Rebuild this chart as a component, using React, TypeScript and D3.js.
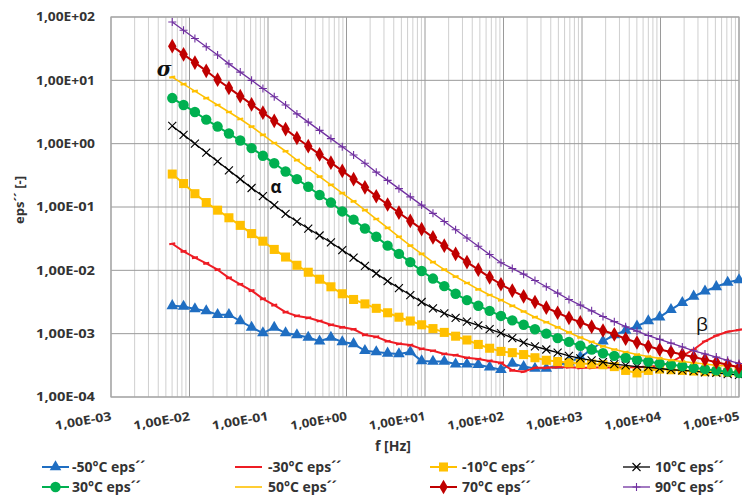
import React from "react";
import * as d3 from "d3";

// frequencies (Hz)
const freqHz = [0.00603, 0.0084, 0.01172, 0.01634, 0.02279, 0.03177, 0.0443, 0.06177, 0.08614, 0.1201, 0.1675, 0.2335, 0.3256, 0.4541, 0.6332, 0.8831, 1.231, 1.717, 2.394, 3.339, 4.656, 6.493, 9.054, 12.63, 17.61, 24.55, 34.24, 47.74, 66.58, 92.84, 129.4, 180.5, 251.7, 351.0, 489.4, 682.3, 951.5, 1327, 1850, 2580, 3597, 5016, 6995, 9754, 13600, 18970, 26450, 36880, 51430, 71720, 100000];

// log10(eps'')
const logEpsM50 = [-2.56,-2.57,-2.61,-2.64,-2.70,-2.70,-2.80,-2.90,-2.99,-2.90,-2.99,-3.02,-3.06,-3.12,-3.06,-3.13,-3.16,-3.27,-3.29,-3.31,-3.32,-3.29,-3.43,-3.44,-3.44,-3.48,-3.48,-3.49,-3.53,-3.57,-3.47,-3.52,-3.55,-3.55,-3.50,-3.45,-3.37,-3.25,-3.12,-3.02,-2.95,-2.88,-2.80,-2.74,-2.62,-2.51,-2.41,-2.33,-2.26,-2.19,-2.15];
const logEpsM30 = [-1.58,-1.70,-1.80,-1.89,-1.99,-2.12,-2.22,-2.32,-2.45,-2.55,-2.66,-2.72,-2.75,-2.80,-2.86,-2.90,-2.93,-3.02,-3.05,-3.12,-3.16,-3.18,-3.24,-3.27,-3.32,-3.34,-3.38,-3.40,-3.43,-3.46,-3.58,-3.60,-3.54,-3.54,-3.53,-3.53,-3.54,-3.54,-3.53,-3.54,-3.53,-3.53,-3.52,-3.51,-3.45,-3.35,-3.25,-3.12,-3.03,-2.97,-2.94];
const logEpsM10 = [-0.48,-0.63,-0.79,-0.93,-1.05,-1.17,-1.29,-1.42,-1.54,-1.67,-1.79,-1.92,-2.03,-2.14,-2.26,-2.37,-2.46,-2.53,-2.60,-2.67,-2.74,-2.80,-2.86,-2.92,-2.98,-3.04,-3.10,-3.17,-3.23,-3.28,-3.30,-3.33,-3.38,-3.42,-3.44,-3.46,-3.47,-3.48,-3.49,-3.52,-3.58,-3.62,-3.58,-3.56,-3.57,-3.58,-3.59,-3.60,-3.60,-3.61,-3.61];
const logEpsP10 = [0.28,0.14,0.00,-0.14,-0.28,-0.42,-0.56,-0.70,-0.83,-0.97,-1.11,-1.23,-1.34,-1.45,-1.56,-1.68,-1.80,-1.93,-2.05,-2.17,-2.28,-2.39,-2.50,-2.60,-2.68,-2.75,-2.81,-2.87,-2.93,-2.99,-3.07,-3.14,-3.20,-3.25,-3.30,-3.35,-3.39,-3.42,-3.45,-3.48,-3.50,-3.52,-3.53,-3.55,-3.57,-3.58,-3.59,-3.61,-3.62,-3.64,-3.65];
const logEpsP30 = [0.72,0.61,0.50,0.38,0.27,0.16,0.05,-0.07,-0.19,-0.31,-0.44,-0.56,-0.68,-0.81,-0.93,-1.07,-1.20,-1.34,-1.47,-1.61,-1.74,-1.87,-2.01,-2.13,-2.25,-2.37,-2.47,-2.56,-2.64,-2.72,-2.79,-2.86,-2.93,-3.00,-3.07,-3.13,-3.19,-3.25,-3.31,-3.35,-3.38,-3.41,-3.44,-3.47,-3.49,-3.51,-3.54,-3.56,-3.58,-3.60,-3.62];
const logEpsP50 = [1.05,0.94,0.83,0.72,0.61,0.50,0.39,0.27,0.14,0.01,-0.12,-0.26,-0.39,-0.52,-0.65,-0.78,-0.91,-1.05,-1.19,-1.33,-1.47,-1.61,-1.74,-1.87,-1.99,-2.10,-2.20,-2.30,-2.39,-2.47,-2.56,-2.65,-2.74,-2.82,-2.90,-2.98,-3.06,-3.13,-3.20,-3.25,-3.29,-3.33,-3.36,-3.39,-3.42,-3.44,-3.46,-3.48,-3.50,-3.51,-3.52];
const logEpsP70 = [1.54,1.41,1.28,1.15,1.01,0.88,0.75,0.62,0.49,0.36,0.23,0.09,-0.04,-0.17,-0.30,-0.43,-0.56,-0.69,-0.83,-0.96,-1.09,-1.22,-1.35,-1.48,-1.61,-1.74,-1.87,-1.99,-2.11,-2.22,-2.32,-2.41,-2.50,-2.59,-2.67,-2.75,-2.82,-2.89,-2.95,-3.01,-3.08,-3.14,-3.20,-3.25,-3.29,-3.33,-3.37,-3.41,-3.45,-3.49,-3.53];
const logEpsP90 = [1.92,1.79,1.66,1.53,1.40,1.26,1.13,1.00,0.87,0.74,0.61,0.47,0.34,0.21,0.08,-0.05,-0.18,-0.31,-0.45,-0.58,-0.71,-0.84,-0.97,-1.10,-1.23,-1.36,-1.49,-1.62,-1.75,-1.88,-1.97,-2.06,-2.16,-2.26,-2.36,-2.46,-2.55,-2.64,-2.73,-2.81,-2.89,-2.96,-3.03,-3.09,-3.15,-3.21,-3.27,-3.32,-3.37,-3.42,-3.47];

const seriesNames = ["-50°C eps´´", "-30°C eps´´", "-10°C eps´´", "10°C eps´´", "30°C eps´´", "50°C eps´´", "70°C eps´´", "90°C eps´´"];
const seriesColors = ["#1F6EC2", "#EE1C24", "#FFC000", "#000000", "#00B050", "#FFC000", "#C00000", "#7030A0"];
const seriesMarkers = ["triangle", "dash", "square", "cross", "circle", "dash", "diamond", "plus"];
const seriesLogValues = [logEpsM50, logEpsM30, logEpsM10, logEpsP10, logEpsP30, logEpsP50, logEpsP70, logEpsP90];

const xTickValues = [1e-3, 1e-2, 1e-1, 1e0, 1e1, 1e2, 1e3, 1e4, 1e5];
const xTickLabels = ["1,00E-03", "1,00E-02", "1,00E-01", "1,00E+00", "1,00E+01", "1,00E+02", "1,00E+03", "1,00E+04", "1,00E+05"];
const yTickValues = [1e-4, 1e-3, 1e-2, 1e-1, 1e0, 1e1, 1e2];
const yTickLabels = ["1,00E-04", "1,00E-03", "1,00E-02", "1,00E-01", "1,00E+00", "1,00E+01", "1,00E+02"];

const FONT = "'Open Sans', 'Liberation Sans', Arial, sans-serif";

function Marker({ type, color, x, y, legend }: { type: string; color: string; x: number; y: number; legend?: boolean }) {
  const t = `translate(${x},${y})`;
  if (type === "triangle") return <path transform={t} d={d3.symbol(d3.symbolTriangle, 58)() as string} fill={color} />;
  if (type === "square") return <path transform={t} d={d3.symbol(d3.symbolSquare, 82)() as string} fill={color} />;
  if (type === "circle") return <circle cx={x} cy={y} r={5.2} fill={color} />;
  if (type === "diamond") return <path transform={t} d={d3.symbol(d3.symbolDiamond, 62)() as string} fill={color} />;
  if (type === "cross") return <path transform={t} d="M-4,-4L4,4M-4,4L4,-4" stroke={color} strokeWidth={1.1} fill="none" />;
  if (type === "plus") return <path transform={t} d="M-4,0L4,0M0,-4L0,4" stroke={color} strokeWidth={1.1} fill="none" />;
  if (type === "dash") return legend ? null : <path transform={t} d="M-3,0.5L3,-0.5" stroke={color} strokeWidth={2.2} fill="none" />;
  return null;
}

export default function App() {
  const left = 111, right = 739, top = 17, bottom = 397;
  const x = d3.scaleLog().domain([1e-3, 1e5]).range([left, right]);
  const y = d3.scaleLog().domain([1e-4, 1e2]).range([bottom, top]);

  const minorX: number[] = [];
  for (let e = -3; e < 5; e++) for (let m = 2; m <= 9; m++) minorX.push(m * Math.pow(10, e));

  const line = d3.line<[number, number]>().x((d) => x(d[0])).y((d) => y(d[1]));

  const legendCols = [{ lx: 42, tx: 72 }, { lx: 235, tx: 268 }, { lx: 430, tx: 462 }, { lx: 623, tx: 655 }];
  const legendRows = [467, 487];

  const lineWidths = [2, 2, 2, 1.3, 2, 1.6, 2, 1.3];

  return (
    <svg width={742} height={497} style={{ position: "absolute", left: 0, top: 0, background: "#fff" }} fontFamily={FONT}>
      <rect x={0} y={0} width={742} height={497} fill="#fff" />
      {minorX.map((v, i) => (
        <line key={"mx" + i} x1={x(v)} x2={x(v)} y1={top} y2={bottom} stroke="#cfcfcf" strokeWidth={1} />
      ))}
      {xTickValues.map((v, i) => (
        <line key={"gx" + i} x1={x(v)} x2={x(v)} y1={top} y2={bottom} stroke="#9a9a9a" strokeWidth={1} />
      ))}
      {yTickValues.map((v, i) => (
        <line key={"gy" + i} x1={left} x2={right} y1={y(v)} y2={y(v)} stroke="#9a9a9a" strokeWidth={1} />
      ))}
      <rect x={left} y={top} width={right - left} height={bottom - top} fill="none" stroke="#a8a8a8" strokeWidth={1.2} />

      {seriesLogValues.map((vals, si) => {
        const pts: [number, number][] = vals.map((lv, i) => [freqHz[i], Math.pow(10, lv)]);
        return (
          <g key={"s" + si}>
            <path d={line(pts) as string} fill="none" stroke={seriesColors[si]} strokeWidth={lineWidths[si]} strokeLinejoin="round" />
            {pts.map((p, i) => (
              <Marker key={i} type={seriesMarkers[si]} color={seriesColors[si]} x={x(p[0])} y={y(p[1])} />
            ))}
          </g>
        );
      })}

      {yTickValues.map((v, i) => (
        <text key={"yl" + i} x={95} y={y(v)} dy="0.35em" textAnchor="end" fontSize={12} fontWeight={700} fill="#333" textLength={59} lengthAdjust="spacingAndGlyphs">
          {yTickLabels[i]}
        </text>
      ))}
      {xTickValues.map((v, i) => (
        <text key={"xl" + i} transform={`translate(${x(v) + 1},${420}) rotate(-10)`} textAnchor="end" fontSize={12} fontWeight={700} fill="#333" textLength={57} lengthAdjust="spacingAndGlyphs">
          {xTickLabels[i]}
        </text>
      ))}

      <text x={393} y={451} textAnchor="middle" fontSize={14} fontWeight={700} fill="#333">f [Hz]</text>
      <text transform="translate(24,200) rotate(-90)" textAnchor="middle" fontSize={13} fontWeight={700} fill="#333">eps´´ [-]</text>

      <text x={164} y={76} textAnchor="middle" fontSize={20} fontStyle="italic" fontWeight={700} fontFamily="'DejaVu Serif', serif" fill="#111">σ</text>
      <text x={276} y={193} textAnchor="middle" fontSize={17} fontWeight={700} fill="#111">α</text>
      <text x={702} y={331} textAnchor="middle" fontSize={19} fill="#111">β</text>

      {seriesNames.map((name, i) => {
        const col = legendCols[i % 4];
        const ry = legendRows[Math.floor(i / 4)];
        return (
          <g key={"lg" + i}>
            <line x1={col.lx} x2={col.lx + 27} y1={ry} y2={ry} stroke={seriesColors[i]} strokeWidth={lineWidths[i]} />
            <Marker type={seriesMarkers[i]} color={seriesColors[i]} x={col.lx + 13.5} y={ry} legend />
            <text x={col.tx} y={ry} dy="0.35em" fontSize={14} fontWeight={700} fill="#333">{name}</text>
          </g>
        );
      })}
    </svg>
  );
}
